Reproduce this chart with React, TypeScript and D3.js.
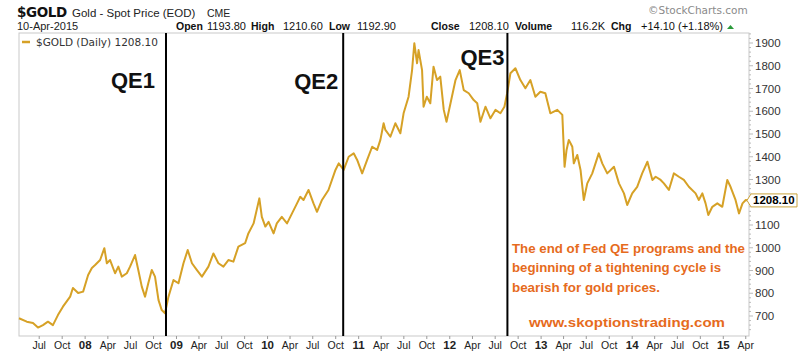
import React from "react";
import * as d3 from "d3";

const dates: string[] = [
  "2007-04-11","2007-05-12","2007-06-06","2007-06-26","2007-07-16","2007-08-05","2007-08-25","2007-09-14","2007-10-04","2007-11-02","2007-11-13","2007-12-04","2007-12-24",
  "2008-01-13","2008-01-28","2008-02-10","2008-03-01","2008-03-18","2008-03-28","2008-04-10","2008-04-30","2008-05-13","2008-05-27","2008-06-16","2008-06-29","2008-07-19","2008-08-01","2008-08-15","2008-08-28","2008-09-10","2008-09-24","2008-10-07","2008-10-21","2008-11-03","2008-11-16","2008-11-30","2008-12-20",
  "2009-01-09","2009-01-29","2009-02-15","2009-03-04","2009-03-24","2009-04-13","2009-05-09","2009-05-29","2009-06-18","2009-07-08","2009-07-28","2009-08-17","2009-09-06","2009-10-03","2009-10-16","2009-11-06","2009-11-29","2009-12-09","2009-12-23",
  "2010-01-05","2010-01-25","2010-02-07","2010-02-27","2010-03-20","2010-04-09","2010-04-29","2010-05-12","2010-05-25","2010-06-14","2010-07-04","2010-07-18","2010-08-07","2010-09-02","2010-09-30","2010-10-13","2010-11-02","2010-11-22","2010-12-12","2010-12-26",
  "2011-01-15","2011-02-04","2011-02-24","2011-03-16","2011-03-29","2011-04-11","2011-04-18","2011-05-08","2011-05-28","2011-06-17","2011-06-30","2011-07-20","2011-08-03","2011-08-12","2011-08-23","2011-08-29","2011-09-12","2011-09-18","2011-10-01","2011-10-15","2011-10-28","2011-11-11","2011-11-24","2011-12-08","2011-12-19",
  "2012-01-04","2012-01-24","2012-02-10","2012-02-26","2012-03-17","2012-04-06","2012-04-20","2012-05-03","2012-05-23","2012-06-12","2012-07-02","2012-07-22","2012-08-07","2012-08-18","2012-08-31","2012-09-20","2012-10-10","2012-10-30","2012-11-19","2012-12-09","2012-12-29",
  "2013-01-18","2013-02-07","2013-03-07","2013-03-27","2013-04-05","2013-04-13","2013-04-22","2013-05-06","2013-05-12","2013-05-26","2013-06-08","2013-06-21","2013-07-05","2013-07-25","2013-08-20","2013-09-03","2013-09-23","2013-10-20","2013-11-09","2013-11-29","2013-12-12",
  "2014-01-01","2014-01-21","2014-02-10","2014-03-03","2014-03-23","2014-04-05","2014-04-25","2014-05-08","2014-05-28","2014-06-17","2014-07-07","2014-07-27","2014-08-16","2014-09-12","2014-09-25","2014-10-09","2014-10-22","2014-11-02","2014-11-18","2014-12-08","2014-12-28",
  "2015-01-17","2015-01-30","2015-02-19","2015-03-05","2015-03-19","2015-04-01","2015-04-10",
];

const closes: number[] = [
  690,675,669,649,660,675,660,704,741,785,823,801,807,
  880,911,924,946,998,932,946,888,917,873,888,917,968,902,829,785,844,902,873,770,726,712,785,858,
  844,932,990,932,902,873,917,975,932,917,946,939,1005,1020,1063,1107,1217,1136,1093,
  1114,1063,1107,1136,1107,1151,1195,1224,1210,1254,1195,1158,1210,1254,1342,1371,1342,1400,1415,1386,
  1327,1386,1444,1430,1474,1547,1518,1488,1547,1503,1591,1664,1781,1899,1811,1869,1781,1620,1664,1635,1796,1737,1752,1606,1554,
  1635,1737,1781,1693,1679,1649,1635,1554,1620,1569,1606,1591,1620,1679,1767,1789,1737,1701,1737,1664,1686,
  1679,1591,1606,1584,1356,1430,1474,1444,1371,1408,1342,1210,1283,1327,1415,1371,1327,1356,1283,1239,1188,
  1239,1268,1327,1378,1298,1312,1298,1283,1254,1327,1312,1298,1268,1239,1210,1239,1195,1144,1180,1195,1180,
  1298,1268,1210,1151,1195,1210,1208.1,
];

const qeLabels: string[] = ["QE1", "QE2", "QE3"];
const qeDates: string[] = ["2008-11-20", "2010-10-31", "2012-08-19"];

const yTickValues: number[] = [700, 800, 900, 1000, 1100, 1300, 1400, 1500, 1600, 1700, 1800, 1900];
const monthNames: string[] = ["Jan","Feb","Mar","Apr","May","Jun","Jul","Aug","Sep","Oct","Nov","Dec"];

const quoteLabels: string[] = ["Open", "High", "Low", "Close", "Volume", "Chg"];
const quoteValues: string[] = ["1193.80", "1210.60", "1192.90", "1208.10", "116.2K", "+14.10 (+1.18%)"];

const noteLines: string[] = [
  "The end of Fed QE programs and the",
  "beginning of a tightening cycle is",
  "bearish for gold prices.",
];
const noteUrl = "www.skoptionstrading.com";
const lastClose = "1208.10";

const parse = d3.utcParse("%Y-%m-%d");

export default function App() {
  const data = dates.map((d, i) => ({ date: parse(d) as Date, value: closes[i] }));
  const left = 19, right = 749, top = 33, bottom = 336;
  const x = d3.scaleUtc().domain([parse("2007-04-11") as Date, parse("2015-04-10") as Date]).range([19, 748]);
  const y = d3.scaleLinear().domain([700, 1900]).range([316, 43]);
  const line = d3.line<{ date: Date; value: number }>().x(d => x(d.date)).y(d => y(d.value));

  const quarterTicks = d3.utcMonth.every(3)!.range(parse("2007-07-01") as Date, parse("2015-04-02") as Date);
  const minorY = d3.range(640, 1941, 20);

  const gold = "#d6a126";
  const orange = "#e66b1d";
  const arial = "Liberation Sans, Arial, sans-serif";
  const verdana = "DejaVu Sans, Verdana, sans-serif";

  const qeLabelDx = [-11, -5, -3];
  const qeLabelY = [88, 89, 65];
  const noteWidths = [233, 209, 148];

  const quoteLabelX = [176, 251, 329, 431, 515, 611];
  const quoteValueX = [207, 283, 357, 469, 571, 641];

  const lastY = y(closes[closes.length - 1]);

  return (
    <svg width={800} height={356} style={{ position: "absolute", left: 0, top: 0, background: "#fff" }}>
      <rect x={0} y={0} width={800} height={356} fill="#fff" />
      {/* header */}
      <text x={17} y={16.5} fontFamily={verdana} fontWeight="bold" fontSize={13.5} letterSpacing={-0.4} fill="#111">$GOLD</text>
      <text x={72} y={16.5} fontFamily={arial} fontSize={11.5} fill="#222">Gold - Spot Price (EOD)</text>
      <text x={207} y={16.5} fontFamily={arial} fontSize={10.5} fill="#222">CME</text>
      <text x={648} y={14} fontFamily={verdana} fontSize={10.5} fill="#8a8a8a">©StockCharts.com</text>
      <text x={17} y={30} fontFamily={arial} fontSize={11} fill="#222">10-Apr-2015</text>
      <g fontFamily={arial} fill="#111">
        {quoteLabels.map((l, i) => (
          <g key={l}>
            <text x={quoteLabelX[i]} y={30} fontWeight="bold" fontSize={10.5}>{l}</text>
            <text x={quoteValueX[i]} y={30} fontSize={11}>{quoteValues[i]}</text>
          </g>
        ))}
      </g>
      <path d="M727,29 L730.5,25 L734,29 Z" fill="#2a9a3a" />

      {/* frame */}
      <rect x={left} y={top} width={right - left} height={bottom - top} fill="#fff" stroke="#c9c9c9" strokeWidth={1} />

      {/* x ticks */}
      {quarterTicks.map((t, i) => {
        const m = t.getUTCMonth();
        const isYear = m === 0;
        return (
          <g key={i}>
            <line x1={x(t)} x2={x(t)} y1={bottom} y2={bottom + 3} stroke="#999" />
            <text x={x(t)} y={348.5} textAnchor="middle" fontFamily={arial}
              fontSize={isYear ? 11.5 : 10.5} fontWeight={isYear ? "bold" : "normal"} fill="#222">
              {isYear ? d3.utcFormat("%y")(t) : monthNames[m]}
            </text>
          </g>
        );
      })}

      {/* y ticks */}
      {minorY.map(v => (
        y(v) > top && y(v) < bottom ? (
          <line key={"m" + v} x1={right} x2={right + (v % 100 === 0 ? 4 : 2)} y1={y(v)} y2={y(v)} stroke="#bbb" />
        ) : null
      ))}
      {yTickValues.map(v => (
        <text key={v} x={755} y={y(v) + 4} fontFamily={arial} fontSize={11.5} fill="#333">{v}</text>
      ))}

      {/* price line */}
      <path d={line(data) || ""} fill="none" stroke={gold} strokeWidth={2} strokeLinejoin="round" />

      {/* legend */}
      <line x1={22} x2={30} y1={42} y2={42} stroke={gold} strokeWidth={2.5} />
      <text x={36} y={46} fontFamily={verdana} fontSize={10.5} fill="#333">$GOLD (Daily) {lastClose}</text>

      {/* QE lines */}
      {qeDates.map((d, i) => {
        const xv = x(parse(d) as Date);
        return (
          <g key={d}>
            <line x1={xv} x2={xv} y1={top} y2={bottom} stroke="#000" strokeWidth={2} />
            <text x={xv + qeLabelDx[i]} y={qeLabelY[i]} textAnchor="end" fontFamily={arial}
              fontWeight="bold" fontSize={22} fill="#111">{qeLabels[i]}</text>
          </g>
        );
      })}

      {/* note */}
      {noteLines.map((t, i) => (
        <text key={i} x={512} y={252.5 + i * 19.6} fontFamily={arial} fontWeight="bold" fontSize={13.2}
          textLength={noteWidths[i]} lengthAdjust="spacingAndGlyphs" fill={orange}>{t}</text>
      ))}
      <text x={529} y={326.5} fontFamily={arial} fontWeight="bold" fontSize={13.5}
        textLength={196} lengthAdjust="spacingAndGlyphs" fill={orange}>{noteUrl}</text>

      {/* last price marker */}
      <path d={`M747,${lastY} L751,${lastY - 6.5} L797,${lastY - 6.5} L797,${lastY + 6.5} L751,${lastY + 6.5} Z`}
        fill="#fff" stroke="#c9a23c" strokeWidth={1} />
      <text x={753} y={lastY + 4} fontFamily={arial} fontWeight="bold" fontSize={11.5} fill="#000">{lastClose}</text>
    </svg>
  );
}
